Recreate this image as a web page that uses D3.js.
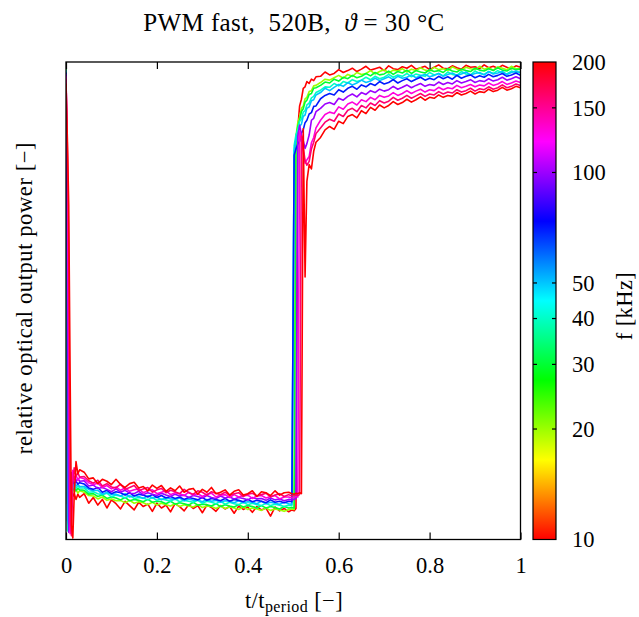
<!doctype html>
<html>
<head>
<meta charset="utf-8">
<script src="https://d3js.org/d3.v7.min.js"></script>
<style>
  body { margin: 0; background: #fff; }
  text { font-family: "Liberation Serif", "Times New Roman", serif; fill: #000; }
</style>
</head>
<body>
<svg width="639" height="617" id="chart"></svg>
<script>
    // normalised time t/t_period, shared by all traces
    var tGrid = [0, 0.003, 0.006, 0.009, 0.012, 0.015, 0.018, 0.022, 0.026, 0.03,
        0.04, 0.05, 0.06, 0.07, 0.08, 0.09, 0.10, 0.11, 0.12, 0.13, 0.14, 0.15, 0.16, 0.17, 0.18, 0.19,
        0.20, 0.21, 0.22, 0.23, 0.24, 0.25, 0.26, 0.27, 0.28, 0.29, 0.30, 0.31, 0.32, 0.33, 0.34, 0.35,
        0.36, 0.37, 0.38, 0.39, 0.40, 0.41, 0.42, 0.43, 0.44, 0.45, 0.46, 0.47, 0.48, 0.49,
        0.497, 0.502, 0.506, 0.51, 0.514, 0.518, 0.522, 0.526, 0.53, 0.535, 0.54, 0.545, 0.55,
        0.56, 0.57, 0.58, 0.59, 0.60, 0.61, 0.62, 0.63, 0.64, 0.65, 0.66, 0.67, 0.68, 0.69, 0.70,
        0.71, 0.72, 0.73, 0.74, 0.75, 0.76, 0.77, 0.78, 0.79, 0.80, 0.81, 0.82, 0.83, 0.84, 0.85,
        0.86, 0.87, 0.88, 0.89, 0.90, 0.91, 0.92, 0.93, 0.94, 0.95, 0.96, 0.97, 0.98, 0.99, 1.00];

    // PWM frequencies in kHz
    var freqs = [10, 20, 30, 40, 50, 70, 100, 130, 160, 200];

    // relative optical output power (0..100 of the plot height), one array per frequency
    var power10 = [98.6, 7.5, 9.8, 8.6, 10.2, 9.0, 9.7, 8.4, 9.5, 8.8,
        9.6, 7.6, 8.8, 7.2, 8.4, 6.6, 8.3, 7.5, 6.4, 8.0, 7.1, 6.2, 7.8, 6.9, 7.4, 5.9, 7.6, 6.6, 7.2, 5.8, 7.5, 6.9, 6.0, 7.3, 6.5, 7.1, 5.6, 7.2, 6.7, 5.9, 7.1, 6.4, 6.9, 5.5, 7.0, 6.3, 6.8, 5.7, 6.9, 6.2, 6.6, 4.9, 6.8, 6.0, 6.5, 5.8,
        6.2, 6.0, 6.5, 86.0, 90.8, 92.2, 94.5, 94.8, 95.9, 95.5, 96.4, 96.1, 96.9,
        97.0, 97.9, 97.3, 97.6, 98.4, 97.8, 98.2, 98.7, 98.0, 98.5, 99.1, 98.3, 98.6, 98.9, 98.2, 99.2, 98.6, 98.4, 99.0, 98.7, 99.3, 98.5, 98.8, 99.1, 98.4, 98.9, 99.4, 98.7, 98.6, 99.2, 98.8, 98.5, 99.3, 98.9, 99.0, 98.6, 99.4, 98.8, 99.1, 98.7, 99.3, 98.9, 98.6, 99.2, 98.9];
    var power20 = [98.8, 12.0, 9.0, 10.4, 9.6, 10.8, 9.9, 10.5, 9.7, 10.2,
        9.9, 9.2, 9.1, 8.5, 8.9, 8.2, 8.5, 8.1, 8.2, 7.7, 8.2, 7.6, 7.9, 7.7, 7.3, 7.8, 7.2, 7.6, 7.3, 7.0, 7.5, 6.9, 7.3, 7.0, 6.8, 7.3, 6.7, 7.0, 6.9, 6.5, 7.0, 6.5, 6.8, 6.6, 6.3, 6.8, 6.3, 6.6, 6.4, 6.1, 6.6, 6.1, 6.4, 6.2, 5.9, 6.3,
        6.4, 6.3, 84.5, 87.3, 88.5, 90.3, 90.8, 92.3, 92.6, 93.8, 94.0, 95.0, 95.1,
        95.7, 96.4, 96.2, 96.7, 97.2, 96.6, 97.4, 97.0, 97.8, 97.4, 97.6, 98.2, 97.5, 98.0, 98.4, 97.7, 98.3, 98.1, 98.6, 97.9, 98.5, 98.2, 98.8, 98.3, 98.1, 98.9, 98.4, 98.6, 98.2, 99.0, 98.5, 98.3, 98.9, 98.6, 98.4, 99.1, 98.5, 98.8, 98.3, 99.0, 98.7, 98.4, 99.1, 98.6, 98.7];
    var power30 = [98.6, 8.0, 10.8, 10.0, 11.0, 10.3, 10.9, 10.2, 10.7, 10.4,
        10.3, 9.5, 9.6, 9.0, 9.3, 8.6, 8.9, 8.7, 8.3, 8.8, 8.1, 8.4, 8.2, 7.9, 8.4, 7.8, 8.0, 7.9, 7.5, 8.0, 7.4, 7.7, 7.5, 7.2, 7.8, 7.2, 7.4, 7.3, 7.0, 7.5, 6.9, 7.3, 7.0, 6.8, 7.3, 6.8, 7.1, 6.9, 6.6, 7.1, 6.6, 6.9, 6.7, 6.4, 6.9, 6.6,
        6.7, 6.6, 84.0, 86.5, 87.8, 89.6, 90.2, 91.6, 92.0, 93.2, 93.4, 94.5, 94.6,
        95.1, 95.8, 95.6, 96.4, 96.0, 96.8, 96.5, 97.2, 96.7, 97.0, 97.6, 97.1, 97.8, 97.3, 97.5, 98.1, 97.4, 98.0, 97.7, 98.3, 97.6, 98.2, 97.9, 97.7, 98.4, 98.0, 98.2, 97.8, 98.6, 98.1, 97.9, 98.5, 98.2, 98.0, 98.7, 98.3, 98.1, 98.6, 98.2, 98.8, 98.3, 98.1, 98.7, 98.4, 98.5];
    var power40 = [98.4, 1.8, 11.5, 10.6, 11.6, 10.8, 11.4, 10.7, 11.2, 10.8,
        10.8, 9.9, 10.0, 9.6, 9.4, 9.7, 8.9, 9.3, 9.1, 8.7, 9.2, 8.6, 8.8, 8.7, 8.3, 8.8, 8.2, 8.5, 8.3, 8.0, 8.5, 7.9, 8.2, 8.0, 7.8, 8.2, 7.6, 8.0, 7.8, 7.5, 8.0, 7.4, 7.8, 7.5, 7.3, 7.8, 7.3, 7.6, 7.3, 7.1, 7.6, 7.1, 7.4, 7.2, 6.9, 7.2,
        7.1, 82.5, 84.8, 85.8, 87.6, 88.0, 89.5, 89.8, 91.0, 91.4, 92.5, 92.8, 93.6,
        94.1, 94.8, 94.7, 95.5, 95.0, 95.9, 95.6, 96.3, 95.9, 96.2, 96.8, 96.3, 97.0, 96.5, 96.8, 97.4, 96.8, 97.3, 97.0, 97.6, 96.9, 97.5, 97.2, 97.0, 97.8, 97.3, 97.6, 97.1, 97.9, 97.4, 97.2, 98.0, 97.5, 97.3, 98.1, 97.6, 97.4, 98.0, 97.6, 98.2, 97.7, 97.5, 98.1, 97.8, 97.9];
    var power50 = [98.2, 4.0, 3.0, 11.2, 11.8, 11.0, 11.9, 11.2, 11.6, 11.1,
        11.1, 10.5, 10.2, 10.3, 9.5, 9.9, 9.4, 9.5, 9.1, 9.6, 8.9, 9.2, 9.0, 8.6, 9.2, 8.7, 8.9, 8.3, 8.8, 8.5, 8.4, 8.7, 8.1, 8.5, 8.2, 8.3, 7.9, 8.4, 8.0, 8.2, 7.8, 8.1, 8.0, 7.7, 8.1, 7.7, 7.9, 7.8, 7.5, 8.0, 7.5, 7.8, 7.6, 7.4, 7.8, 7.5,
        7.4, 81.5, 83.8, 84.8, 86.5, 87.0, 88.6, 88.9, 90.3, 90.6, 91.9, 92.1, 93.1,
        93.6, 94.5, 94.0, 94.7, 95.3, 94.9, 95.7, 95.2, 95.6, 96.2, 95.7, 96.0, 96.6, 96.1, 96.5, 96.9, 96.3, 97.0, 96.6, 96.8, 97.3, 96.7, 97.1, 97.4, 96.9, 97.2, 97.6, 97.0, 97.4, 97.7, 97.2, 97.5, 97.9, 97.3, 97.6, 97.8, 97.3, 98.0, 97.5, 97.7, 98.0, 97.4, 97.8, 98.1, 97.7];
    var power70 = [97.8, 60.0, 2.0, 12.5, 11.5, 12.4, 11.7, 12.2, 11.6, 11.9,
        11.6, 10.8, 10.5, 10.9, 9.9, 10.3, 9.6, 10.0, 9.8, 9.3, 9.8, 9.1, 9.5, 9.3, 8.9, 9.4, 8.8, 9.2, 8.7, 9.0, 8.6, 8.9, 8.4, 8.8, 8.6, 8.3, 8.8, 8.2, 8.6, 8.4, 8.1, 8.6, 8.0, 8.4, 8.2, 7.9, 8.4, 7.9, 8.2, 8.0, 7.7, 8.3, 7.8, 8.0, 7.7, 8.0,
        7.9, 80.5, 81.8, 82.8, 83.4, 85.1, 85.8, 87.3, 87.8, 89.1, 89.4, 90.7, 90.8,
        92.3, 93.0, 93.4, 93.1, 94.2, 93.7, 94.5, 94.9, 94.3, 95.2, 94.8, 95.5, 95.1, 95.9, 95.4, 95.7, 96.3, 95.6, 96.1, 96.5, 95.9, 96.4, 96.8, 96.2, 96.6, 96.3, 97.0, 96.5, 96.9, 96.4, 97.2, 96.6, 97.0, 97.3, 96.7, 97.1, 96.8, 97.4, 96.9, 97.2, 97.6, 97.0, 97.3, 97.7, 97.2];
    var power100 = [97.5, 75.0, 1.5, 6.0, 14.0, 12.0, 13.2, 12.1, 12.8, 12.2,
        12.3, 11.2, 11.4, 10.7, 10.9, 10.5, 10.0, 10.6, 9.9, 10.3, 9.7, 9.6, 10.1, 9.4, 9.8, 9.5, 9.2, 9.7, 9.3, 9.0, 9.5, 9.1, 9.3, 8.8, 9.2, 9.0, 8.7, 9.2, 8.8, 8.6, 9.1, 8.7, 8.9, 8.5, 8.8, 8.6, 8.3, 8.8, 8.5, 8.6, 8.2, 8.7, 8.3, 8.5, 8.1, 8.4,
        8.3, 8.4, 8.6, 84.5, 86.8, 84.8, 83.5, 81.9, 82.9, 84.7, 87.8, 88.2, 89.6,
        90.3, 91.2, 91.5, 91.1, 92.4, 92.0, 92.8, 93.3, 92.7, 93.6, 93.2, 94.0, 93.6, 94.3, 93.9, 94.2, 94.9, 94.3, 94.7, 95.2, 94.6, 95.1, 95.5, 94.9, 95.3, 95.1, 95.8, 95.3, 95.7, 95.4, 96.1, 95.6, 95.9, 96.3, 95.7, 96.1, 95.9, 96.5, 96.0, 96.3, 96.8, 96.2, 96.5, 96.9, 96.5];
    var power130 = [97.0, 80.0, 40.0, 1.2, 10.0, 14.5, 12.5, 13.5, 12.4, 13.0,
        12.7, 11.9, 11.5, 11.8, 10.9, 11.3, 10.6, 11.0, 10.3, 10.8, 10.1, 10.4, 10.6, 9.8, 10.2, 10.4, 9.6, 9.9, 10.2, 9.4, 9.8, 9.6, 9.2, 9.9, 9.3, 9.6, 9.0, 9.5, 9.7, 8.9, 9.3, 9.4, 8.8, 9.4, 8.9, 9.2, 9.3, 8.6, 9.1, 9.2, 8.7, 9.0, 9.2, 8.5, 8.9, 8.9,
        8.7, 8.8, 9.0, 8.9, 85.5, 83.8, 81.2, 78.8, 79.5, 80.2, 83.1, 84.2, 86.2,
        87.8, 89.0, 89.5, 89.2, 90.6, 90.1, 91.2, 91.6, 91.0, 92.1, 91.7, 92.6, 92.1, 93.0, 92.6, 92.9, 93.6, 93.0, 93.4, 94.0, 93.4, 93.9, 94.3, 93.7, 94.2, 94.0, 94.7, 94.2, 94.6, 94.4, 95.1, 94.6, 94.9, 95.3, 94.8, 95.2, 95.0, 95.6, 95.1, 95.4, 95.9, 95.3, 95.6, 96.0, 95.7];
    var power160 = [96.5, 82.0, 60.0, 4.0, 0.8, 12.0, 15.0, 13.2, 14.0, 13.1,
        13.2, 12.3, 11.8, 12.4, 11.2, 11.7, 11.0, 10.8, 11.6, 10.5, 10.9, 11.3, 10.2, 10.6, 10.9, 9.9, 10.4, 10.7, 9.8, 10.3, 10.0, 9.6, 10.5, 9.8, 9.5, 10.2, 9.9, 9.3, 10.0, 9.7, 9.4, 9.9, 9.2, 9.6, 9.8, 9.0, 9.5, 9.7, 9.1, 9.4, 9.7, 8.9, 9.3, 9.6, 9.0, 9.4,
        9.1, 9.2, 9.3, 9.2, 9.4, 84.5, 82.2, 79.3, 78.4, 79.2, 81.8, 83.2, 85.0,
        86.2, 87.4, 88.0, 87.6, 89.1, 88.6, 89.9, 90.3, 89.6, 90.9, 90.4, 91.4, 90.9, 91.9, 91.4, 91.8, 92.6, 92.0, 92.4, 93.0, 92.4, 92.9, 93.4, 92.8, 93.3, 93.1, 93.8, 93.3, 93.7, 93.5, 94.2, 93.7, 94.0, 94.5, 93.9, 94.4, 94.2, 94.8, 94.3, 94.6, 95.2, 94.6, 94.9, 95.4, 95.1];
    var power200 = [95.5, 84.0, 70.0, 35.0, 3.0, 0.3, 9.0, 16.3, 13.8, 14.6,
        14.1, 12.7, 12.9, 11.7, 12.6, 12.2, 11.5, 12.6, 11.5, 10.9, 11.7, 12.0, 10.8, 11.1, 10.2, 11.4, 10.7, 11.3, 10.1, 10.8, 10.2, 11.2, 9.9, 10.5, 10.7, 9.5, 10.5, 9.9, 10.9, 9.6, 9.9, 10.4, 9.3, 10.1, 10.4, 9.3, 9.6, 10.2, 9.0, 10.0, 9.8, 9.2, 10.2, 9.3, 9.8, 9.9,
        9.6, 9.5, 9.7, 9.6, 9.8, 9.6, 86.0, 55.0, 75.0, 78.5, 77.6, 81.3, 83.2,
        84.2, 85.8, 86.5, 85.9, 87.6, 87.1, 88.6, 89.0, 88.3, 89.8, 89.2, 90.5, 89.9, 91.0, 90.4, 90.9, 91.7, 91.1, 91.5, 92.2, 91.6, 92.1, 92.7, 92.0, 92.6, 92.4, 93.1, 92.6, 93.0, 92.8, 93.6, 93.1, 93.4, 93.9, 93.3, 93.8, 93.6, 94.3, 93.8, 94.1, 94.7, 94.1, 94.4, 94.9, 94.6];

    var xTicks = [0, 0.2, 0.4, 0.6, 0.8, 1];
    var colorTicks = [10, 20, 30, 40, 50, 100, 150, 200];

    var seriesValues = [power10, power20, power30, power40, power50, power70, power100, power130, power160, power200];
    seriesValues.forEach(function(s, i) {
        if (s.length != tGrid.length) console.warn("length mismatch", freqs[i], s.length);
    });

    //SVG canvas
    var svg = d3.select("#chart"),
        plotL = 66, plotR = 520.5, plotT = 62, plotB = 539.5;

    var xScale = d3.scaleLinear().domain([0, 1]).range([plotL, plotR]),
        yScale = d3.scaleLinear().domain([0, 100]).range([plotB, plotT]),
        fScale = d3.scaleLog().domain([10, 200]).range([plotB, plotT]);

    // hue wheel palette over log frequency: red -> yellow -> green -> cyan -> blue -> magenta -> red
    var huePos = d3.scaleLog().domain([10, 200]).range([0, 1]);
    function freqColor(f) {
        return d3.hsl(huePos(f) * 360, 1, 0.5).formatHex();
    }

    var defs = svg.append("defs");
    defs.append("clipPath").attr("id", "plotClip")
        .append("rect")
        .attr("x", plotL).attr("y", plotT)
        .attr("width", plotR - plotL).attr("height", plotB - plotT);

    //Traces
    var line = d3.line()
        .x(function(d) { return xScale(d[0]); })
        .y(function(d) { return yScale(d[1]); });

    svg.append("g")
        .attr("clip-path", "url(#plotClip)")
        .selectAll("path")
        .data(freqs.map(function(f, i) {
            return { f: f, pts: tGrid.map(function(t, k) { return [t, seriesValues[i][k]]; }) };
        }))
        .enter().append("path")
        .attr("fill", "none")
        .attr("stroke", function(d) { return freqColor(d.f); })
        .attr("stroke-width", 1.6)
        .attr("stroke-linejoin", "round")
        .attr("d", function(d) { return line(d.pts); });

    //Frame
    svg.append("rect")
        .attr("x", plotL).attr("y", plotT)
        .attr("width", plotR - plotL).attr("height", plotB - plotT)
        .attr("fill", "none").attr("stroke", "#000").attr("stroke-width", 1.3);

    //X-axis (bottom with labels, top mirrored)
    var xAxis = svg.append("g")
        .attr("transform", "translate(0," + plotB + ")")
        .call(d3.axisBottom(xScale).tickValues(xTicks)
            .tickSizeInner(-7).tickSizeOuter(0).tickPadding(17.5)
            .tickFormat(function(d) { return String(d); }));
    xAxis.select(".domain").remove();
    xAxis.selectAll("line").attr("stroke-width", 1.2);
    xAxis.selectAll("text").attr("font-size", 22.5)
        .attr("font-family", "Liberation Serif, serif");

    var xTop = svg.append("g")
        .attr("transform", "translate(0," + plotT + ")")
        .call(d3.axisTop(xScale).tickValues(xTicks).tickSizeInner(-7).tickSizeOuter(0).tickFormat(""));
    xTop.select(".domain").remove();
    xTop.selectAll("line").attr("stroke-width", 1.2);

    //Colorbar
    var cbLeft = 533, cbRight = 556;
    var grad = defs.append("linearGradient").attr("id", "hueGrad")
        .attr("x1", 0).attr("y1", 1).attr("x2", 0).attr("y2", 0);
    d3.range(0, 73).forEach(function(i) {
        var p = i / 72;
        grad.append("stop")
            .attr("offset", p)
            .attr("stop-color", d3.hsl(p * 360, 1, 0.5).formatHex());
    });
    svg.append("rect")
        .attr("x", cbLeft).attr("y", plotT)
        .attr("width", cbRight - cbLeft).attr("height", plotB - plotT)
        .attr("fill", "url(#hueGrad)")
        .attr("stroke", "#000").attr("stroke-width", 1.2);

    var innerTicks = colorTicks.filter(function(v) { return v > 10 && v < 200; });
    svg.append("g").selectAll("line")
        .data(innerTicks.concat(innerTicks))
        .enter().append("line")
        .attr("x1", function(d, i) { return i < innerTicks.length ? cbLeft : cbRight; })
        .attr("x2", function(d, i) { return i < innerTicks.length ? cbLeft + 4 : cbRight - 4; })
        .attr("y1", function(d) { return fScale(d); })
        .attr("y2", function(d) { return fScale(d); })
        .attr("stroke", "#000").attr("stroke-width", 1.2);

    var cbAxis = svg.append("g")
        .attr("transform", "translate(" + cbRight + ",0)")
        .call(d3.axisRight(fScale).tickValues(colorTicks).tickSize(0).tickPadding(16)
            .tickFormat(function(d) { return String(d); }));
    cbAxis.select(".domain").remove();
    cbAxis.selectAll("text").attr("font-size", 22.5)
        .attr("font-family", "Liberation Serif, serif");

    //Labels
    var title = svg.append("text")
        .attr("x", 294).attr("y", 31)
        .attr("text-anchor", "middle")
        .attr("font-size", 25)
        .attr("letter-spacing", 0.4);
    title.append("tspan").text("PWM fast,  520B,  ");
    title.append("tspan").attr("font-style", "italic").text("ϑ");
    title.append("tspan").text(" = 30 °C");
    title.attr("xml:space", "preserve").style("white-space", "pre");

    var xLabel = svg.append("text")
        .attr("x", 294).attr("y", 607.5)
        .attr("text-anchor", "middle")
        .attr("font-size", 22.5)
        .attr("letter-spacing", 0.4);
    xLabel.append("tspan").text("t/t");
    xLabel.append("tspan").attr("font-size", 16).attr("dy", 4).text("period");
    xLabel.append("tspan").attr("dy", -4).text(" [−]");

    svg.append("text")
        .attr("transform", "translate(32,298) rotate(-90)")
        .attr("text-anchor", "middle")
        .attr("font-size", 22.5)
        .attr("letter-spacing", 0.6)
        .text("relative optical output power [−]");

    svg.append("text")
        .attr("transform", "translate(632,306) rotate(-90)")
        .attr("text-anchor", "middle")
        .attr("font-size", 22.5)
        .attr("letter-spacing", 0.4)
        .text("f [kHz]");
</script>
</body>
</html>
